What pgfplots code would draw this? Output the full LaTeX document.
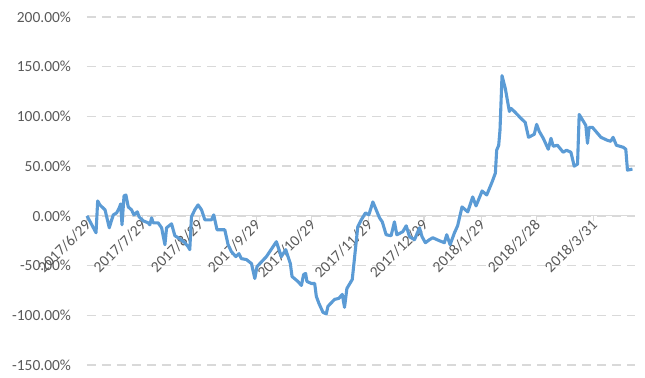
\documentclass[border=0pt]{standalone}
\usepackage{pgfplots}
\pgfplotsset{compat=1.18}
\usepackage{fontspec}
\setmainfont{Carlito}
\definecolor{linec}{HTML}{5B9BD5}
\definecolor{gridc}{HTML}{D9D9D9}
\definecolor{txtc}{HTML}{595959}
\begin{document}
\begin{tikzpicture}
\begin{axis}[
  scale only axis, width=548bp, height=348bp,
  xmin=0, xmax=297.5, ymin=-150, ymax=200,
  axis x line=middle, axis y line=left,
  hide obscured x ticks=false, hide obscured y ticks=false,
  x axis line style={-, draw=gridc, line width=1.2bp},
  y axis line style={draw=none},
  xtick={0,30,61,92,122,153,183,214,244,275},
  xticklabels={2017/6/29,2017/7/29,2017/8/29,2017/9/29,2017/10/29,2017/11/29,2017/12/29,2018/1/29,2018/2/28,2018/3/31},
  xtick align=outside,
  xtick style={draw=gridc, line width=1.2bp},
  major tick length=5bp,
  ytick={-150,-100,...,200},
  ytick style={draw=none},
  ymajorgrids,
  grid style={draw=gridc, line width=1.3bp, dash pattern=on 9bp off 6bp},
  yticklabel={\pgfmathprintnumber[fixed,fixed zerofill,precision=2,assume math mode=true]{\tick}\%},
  yticklabel style={font=\fontsize{15.5}{18}\selectfont, text=txtc, anchor=east, xshift=-10bp},
  xticklabel style={font=\fontsize{15.5}{18}\selectfont, text=txtc, rotate=45, anchor=east, xshift=3bp, yshift=-2bp},
  clip=false,
]
\addplot[linec, line width=3.1bp, line join=round] table {
x y
0 0
4.9 -17
5.8 15
7.0 11
9.8 6
12.1 -12
13.4 -4
14.3 1
16.1 3
17.5 8
18.3 12
19.0 -9
20.1 20
21.1 21
22.4 9
24.2 6
25.5 1
27.3 4
28.3 -1
30.5 -5
33.2 -7
34.1 -9
35.1 -2
35.9 -7
38.6 -7
40.5 -12
42.3 -29
43.2 -12
45.9 -8
47.7 -20
50.4 -23
53.1 -27
54.9 -31
55.8 -34
56.7 -1
58.5 6
60.3 11
62.2 6
64.0 -4
67.6 -4
68.8 1
70.6 -14
74.8 -14
76.6 -29
78.4 -36
80.8 -41
82.5 -38
83.8 -43
86.6 -44
89.3 -48
91.1 -63
92.3 -51
97.4 -41
102.8 -26
105.5 -41
107.9 -34
110.4 -48
111.3 -61
114.5 -66
116.4 -70
117.6 -59
118.7 -58
119.4 -66
121.8 -68
123.6 -68
124.5 -81
125.9 -88
128.1 -97
129.9 -98.6
130.8 -91
134.4 -84
136.7 -83
138.6 -79
139.8 -92
141.1 -73
144.0 -64
147.0 -11
148.9 -4
151.2 3
153.0 1
155.2 14
157.0 6
158.8 -2
160.3 -6
162.4 -19
165.1 -20
166.9 -6
168.2 -19
171.4 -16
173.3 -10
175.1 -21
177.8 -24
180.5 -12
181.9 -21
183.7 -27
185.9 -24
187.7 -22
191.3 -25
194.0 -27
195.3 -19
197.1 -29
199.5 -17
201.2 -10
203.6 9
206.7 4
209.4 19
211.2 10
214.5 25
217.0 21
219.9 34
221.7 43
222.4 66
223.5 71
224.2 86
225.3 141
227.1 128
229.3 105
230.2 108
232.0 105
235.6 98
237.9 94
239.7 79
242.8 82
244.1 92
245.5 85
247.7 78
250.4 67
251.9 78
253.1 70
255.4 71
258.5 64
260.3 66
262.7 64
264.5 50
266.3 52
267.2 102
270.8 91
271.7 73
272.6 89
274.4 89
279.0 79
282.5 76
284.3 75
285.6 79
287.4 71
291.1 69
292.5 67
293.4 46
296.1 47
};
\end{axis}
\path (current axis.south west) ++(-87bp,-13bp) (current axis.north east) ++(10bp,17bp);
\end{tikzpicture}
\end{document}
